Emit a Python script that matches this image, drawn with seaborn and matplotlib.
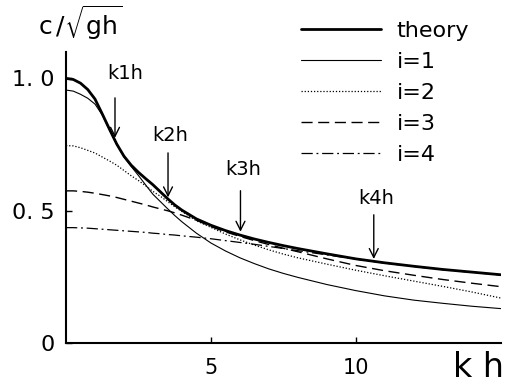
import numpy as np
import pandas as pd
import seaborn as sns
import matplotlib
matplotlib.use("Agg")
import matplotlib.pyplot as plt

# values
kh = [0, 0.25, 0.5, 0.75, 1.0, 1.25, 1.5, 1.75, 2.0, 2.25, 2.5, 2.75, 3.0, 3.25, 3.5, 3.75, 4.0,
      4.5, 5.0, 5.5, 6.0, 6.5, 7.0, 7.5, 8.0, 9.0, 10.0, 11.0, 12.0, 13.0, 14.0, 15.0]
theory = [1.0, 0.996, 0.982, 0.958, 0.922, 0.866, 0.808, 0.752, 0.706, 0.672, 0.645, 0.621, 0.598,
          0.572, 0.546, 0.522, 0.502, 0.469, 0.445, 0.425, 0.408, 0.393, 0.38, 0.368, 0.357,
          0.337, 0.318, 0.303, 0.29, 0.278, 0.268, 0.258]
i1 = [0.956, 0.952, 0.94, 0.925, 0.903, 0.862, 0.805, 0.75, 0.703, 0.667, 0.633, 0.597, 0.562,
      0.535, 0.508, 0.482, 0.458, 0.415, 0.378, 0.348, 0.322, 0.3, 0.28, 0.263, 0.248,
      0.221, 0.198, 0.178, 0.162, 0.15, 0.139, 0.13]
i2 = [0.746, 0.745, 0.738, 0.728, 0.718, 0.703, 0.688, 0.672, 0.652, 0.632, 0.614, 0.594, 0.573,
      0.555, 0.535, 0.515, 0.497, 0.462, 0.437, 0.412, 0.39, 0.37, 0.352, 0.336, 0.322,
      0.298, 0.275, 0.254, 0.234, 0.214, 0.193, 0.17]
i3 = [0.575, 0.575, 0.573, 0.57, 0.566, 0.561, 0.556, 0.55, 0.543, 0.536, 0.529, 0.522, 0.514,
      0.507, 0.50, 0.492, 0.483, 0.464, 0.44, 0.42, 0.403, 0.387, 0.372, 0.358, 0.345,
      0.318, 0.293, 0.273, 0.256, 0.24, 0.226, 0.213]
i4 = [0.436, 0.436, 0.435, 0.434, 0.432, 0.43, 0.428, 0.426, 0.424, 0.422, 0.42, 0.418, 0.415,
      0.413, 0.41, 0.408, 0.405, 0.40, 0.394, 0.387, 0.38, 0.373, 0.365, 0.357, 0.349,
      0.333, 0.317, 0.302, 0.289, 0.277, 0.267, 0.257]

labels = ["theory", "i=1", "i=2", "i=3", "i=4"]
dash_list = [None, None, (1, 1.5), (8, 4), (9, 3, 1.5, 3)]
widths = [2.0, 0.8, 0.9, 1.0, 0.9]

# arrows k1h..k4h
arrow_x = [1.69, 3.52, 6.02, 10.62]
arrow_y = [0.765, 0.54, 0.41, 0.307]
arrow_top = [0.937, 0.729, 0.586, 0.495]
arrow_txt = ["k1h", "k2h", "k3h", "k4h"]
txt_x = [2.03, 3.59, 6.1, 10.69]
txt_y = [1.02, 0.786, 0.654, 0.548]

sns.set_style("ticks", {"text.color": "black", "axes.edgecolor": "black",
                        "xtick.color": "black", "ytick.color": "black"})
plt.rcParams['font.family'] = ['DejaVu Sans']

df = pd.DataFrame({"kh": kh, "theory": theory, "i=1": i1, "i=2": i2, "i=3": i3, "i=4": i4})

fig = plt.figure(figsize=(5.09, 3.86), dpi=100)
ax = fig.add_axes([0.1297, 0.1114, 0.854, 0.754])

for lab, d, lw in zip(labels, dash_list, widths):
    sns.lineplot(data=df, x="kh", y=lab, ax=ax, color="black", linewidth=lw, label=lab)
    if d is not None:
        ax.lines[-1].set_dashes(d)

for x0, y0, yt, t, tx, ty in zip(arrow_x, arrow_y, arrow_top, arrow_txt, txt_x, txt_y):
    ax.annotate("", xy=(x0, y0), xytext=(x0, yt),
                arrowprops=dict(arrowstyle="->", color="black", lw=1.0, mutation_scale=16))
    ax.text(tx, ty, t, ha="center", va="center", fontsize=14, color="black")

ax.set_xlim(0, 15)
ax.set_ylim(0, 1.1)
ax.set_xticks([5, 10])
ax.set_xticklabels(["5", "10"], fontsize=15)
ax.set_yticks([0, 0.5, 1.0])
ax.set_yticklabels(["0", "0. 5", "1. 0"], fontsize=16)
ax.tick_params(axis="y", direction="in", length=4, width=1, pad=8, colors="black")
ax.tick_params(axis="x", direction="in", length=4, width=1, pad=11, colors="black")
ax.set_xlabel("")
ax.set_ylabel("")
sns.despine(ax=ax)
for s in ["left", "bottom"]:
    ax.spines[s].set_linewidth(1.5)
    ax.spines[s].set_color("black")

ax.legend(loc="upper left", bbox_to_anchor=(0.541, 1.107), frameon=False, fontsize=16,
          handlelength=3.6, handletextpad=0.7, labelspacing=0.5, borderaxespad=0, borderpad=0,
          labelcolor="black")

fig.text(0.157, 0.94, r"$\mathrm{c}\,/\sqrt{\mathrm{gh}}$", fontsize=18, ha="center", va="center",
         color="black")
fig.text(0.94, 0.047, "k h", fontsize=24, ha="center", va="center", color="black")

fig.savefig("out.png", dpi=100)
